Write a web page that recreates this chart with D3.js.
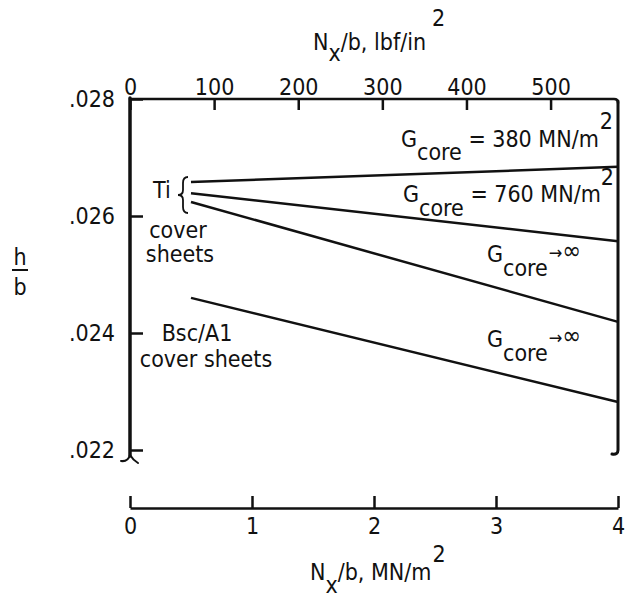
<!DOCTYPE html>
<html>
<head>
<meta charset="utf-8">
<script src="https://cdn.jsdelivr.net/npm/d3@7"></script>
<style>
  html, body { margin: 0; padding: 0; background: #fff; }
  svg { display: block; }
  text { font-family: "Liberation Sans Narrow", "DejaVu Sans Condensed", "Arial Narrow", sans-serif; fill: #111; }
</style>
</head>
<body>
<svg id="chart" width="625" height="599"></svg>
<script>
// Edgewise load per unit width, MN/m^2 (start and end of each curve)
const loadMN = [0.5, 4.0];
// Thickness ratio h/b for each panel design
const hbTi380 = [0.02658, 0.02684];
const hbTi760 = [0.02639, 0.02557];
const hbTiInf = [0.02624, 0.02419];
const hbBscInf = [0.02460, 0.02282];

const mnTicks = [0, 1, 2, 3, 4];
const psiTicks = [0, 100, 200, 300, 400, 500];
const hbTicks = [0.022, 0.024, 0.026, 0.028];
const PSI_PER_MN = 145.038;

const svg = d3.select("#chart");
const W = 625, H = 599;
svg.append("rect").attr("width", W).attr("height", H).attr("fill", "#fff");

const x0 = 130, x1 = 618, yTop = 99, yBot = 450, yAxisB = 508;

const x = d3.scaleLinear().domain([0, 4]).range([x0, x1]);
const xPsi = d3.scaleLinear().domain([0, 4 * PSI_PER_MN]).range([x0, x1]);
const y = d3.scaleLinear().domain([0.022, 0.028]).range([yBot, yTop]);

const FS = 23;

// Top axis (lbf/in^2), ticks pointing into the plot
const gTop = svg.append("g").attr("transform", `translate(0,${yTop})`)
  .call(d3.axisTop(xPsi).tickValues(psiTicks).tickSizeInner(-11).tickSizeOuter(0).tickPadding(4).tickFormat(d3.format("d")));
gTop.select(".domain").remove();
gTop.selectAll(".tick line").attr("stroke", "#111").attr("stroke-width", 2.5);
gTop.selectAll(".tick text").attr("font-size", FS).attr("font-family", null).attr("fill", "#111");

// Left axis (h/b)
const gLeft = svg.append("g").attr("transform", `translate(${x0},0)`)
  .call(d3.axisLeft(y).tickValues(hbTicks).tickSizeInner(-13).tickSizeOuter(0).tickPadding(15)
    .tickFormat(d => d3.format(".3f")(d).replace(/^0/, "")));
gLeft.select(".domain").remove();
gLeft.selectAll(".tick line").attr("stroke", "#111").attr("stroke-width", 2.5);
gLeft.selectAll(".tick text").attr("font-size", FS).attr("font-family", null).attr("fill", "#111");

// Bottom axis (MN/m^2), separate from the frame
const gBot = svg.append("g").attr("transform", `translate(0,${yAxisB})`)
  .call(d3.axisBottom(x).tickValues(mnTicks).tickSizeInner(-12).tickSizeOuter(0).tickPadding(10).tickFormat(d3.format("d")));
gBot.select(".domain").attr("stroke", "#111").attr("stroke-width", 2.5);
gBot.selectAll(".tick line").attr("stroke", "#111").attr("stroke-width", 2.5);
gBot.selectAll(".tick text").attr("font-size", FS).attr("font-family", null).attr("fill", "#111");

// Frame: top edge, bold left edge and right edge, each ending in a break hook
const frame = svg.append("g").attr("fill", "none").attr("stroke", "#111").attr("stroke-linecap", "round");
frame.append("path").attr("stroke-width", 2.5)
  .attr("d", `M${x0},${yTop} L${x1 - 4},${yTop} Q${x1},${yTop} ${x1},${yTop + 4}`);
frame.append("path").attr("stroke-width", 3.5)
  .attr("d", `M${x0},${yTop - 1} L${x0},${yBot + 6}`);
frame.append("path").attr("stroke-width", 2)
  .attr("d", `M${x0},${yBot + 5} Q${x0 - 2},${yBot + 12} ${x0 - 9},${yBot + 11}`);
frame.append("path").attr("stroke-width", 2)
  .attr("d", `M${x0},${yBot + 5} Q${x0 + 3},${yBot + 10} ${x0 + 8},${yBot + 13}`);
frame.append("path").attr("stroke-width", 3)
  .attr("d", `M${x1},${yTop + 2} L${x1},${yBot} Q${x1},${yBot + 5} ${x1 - 6},${yBot + 4}`);

// Design curves
const line = d3.line().x(d => x(d[0])).y(d => y(d[1]));
const curves = [hbTi380, hbTi760, hbTiInf, hbBscInf];
svg.append("g").selectAll("path").data(curves).join("path")
  .attr("d", vals => line(loadMN.map((l, i) => [l, vals[i]])))
  .attr("fill", "none").attr("stroke", "#111").attr("stroke-width", 2.5);

// Text helpers
function label(xp, yp, parts, size = FS) {
  const t = svg.append("text").attr("x", xp).attr("y", yp).attr("font-size", size);
  parts.forEach(p => {
    const s = t.append("tspan").text(p.t);
    if (p.dy) s.attr("dy", p.dy);
    if (p.dx) s.attr("dx", p.dx);
    if (p.fs) s.attr("font-size", p.fs);
  });
  return t;
}

// Curve labels
label(401, 147, [{t: "G"}, {t: "core", dy: 13}, {t: " = 380 MN/m", dy: -13}, {t: "2", dy: -18, dx: 1}]);
label(403, 202, [{t: "G"}, {t: "core", dy: 14}, {t: " = 760 MN/m", dy: -14}, {t: "2", dy: -17, dx: 0}]);
label(487, 262, [{t: "G"}, {t: "core", dy: 14}, {t: "→", dy: -17, fs: 18, dx: 1}, {t: "∞", dy: 0, fs: 25}]);
label(487, 347, [{t: "G"}, {t: "core", dy: 14}, {t: "→", dy: -17, fs: 18, dx: 1}, {t: "∞", dy: 0, fs: 25}]);

// Material group labels
svg.append("text").attr("x", 153).attr("y", 198).attr("font-size", FS).text("Ti");
svg.append("path").attr("fill", "none").attr("stroke", "#111").attr("stroke-width", 1.8)
  .attr("d", "M188,177 Q183,177 183,183 L183,190 Q183,195 178,195 Q183,195 183,200 L183,207 Q183,213 188,213");
svg.append("text").attr("x", 178).attr("y", 238).attr("text-anchor", "middle").attr("font-size", FS).text("cover");
svg.append("text").attr("x", 180).attr("y", 262).attr("text-anchor", "middle").attr("font-size", FS).text("sheets");
svg.append("text").attr("x", 197).attr("y", 341).attr("text-anchor", "middle").attr("font-size", FS).text("Bsc/A1");
svg.append("text").attr("x", 206).attr("y", 367).attr("text-anchor", "middle").attr("font-size", FS).text("cover sheets");

// Axis titles
label(313, 50, [{t: "N"}, {t: "x", dy: 11}, {t: "/b, lbf/in", dy: -11}, {t: "2", dy: -24, dx: 6}]);
label(310, 580, [{t: "N"}, {t: "x", dy: 13}, {t: "/b, MN/m", dy: -13}, {t: "2", dy: -18, dx: 1}]);

// h/b ratio label
svg.append("text").attr("x", 20).attr("y", 265).attr("text-anchor", "middle").attr("font-size", FS).text("h");
svg.append("line").attr("x1", 12).attr("x2", 28).attr("y1", 270).attr("y2", 270).attr("stroke", "#111").attr("stroke-width", 2);
svg.append("text").attr("x", 20).attr("y", 295).attr("text-anchor", "middle").attr("font-size", FS).text("b");
</script>
</body>
</html>
